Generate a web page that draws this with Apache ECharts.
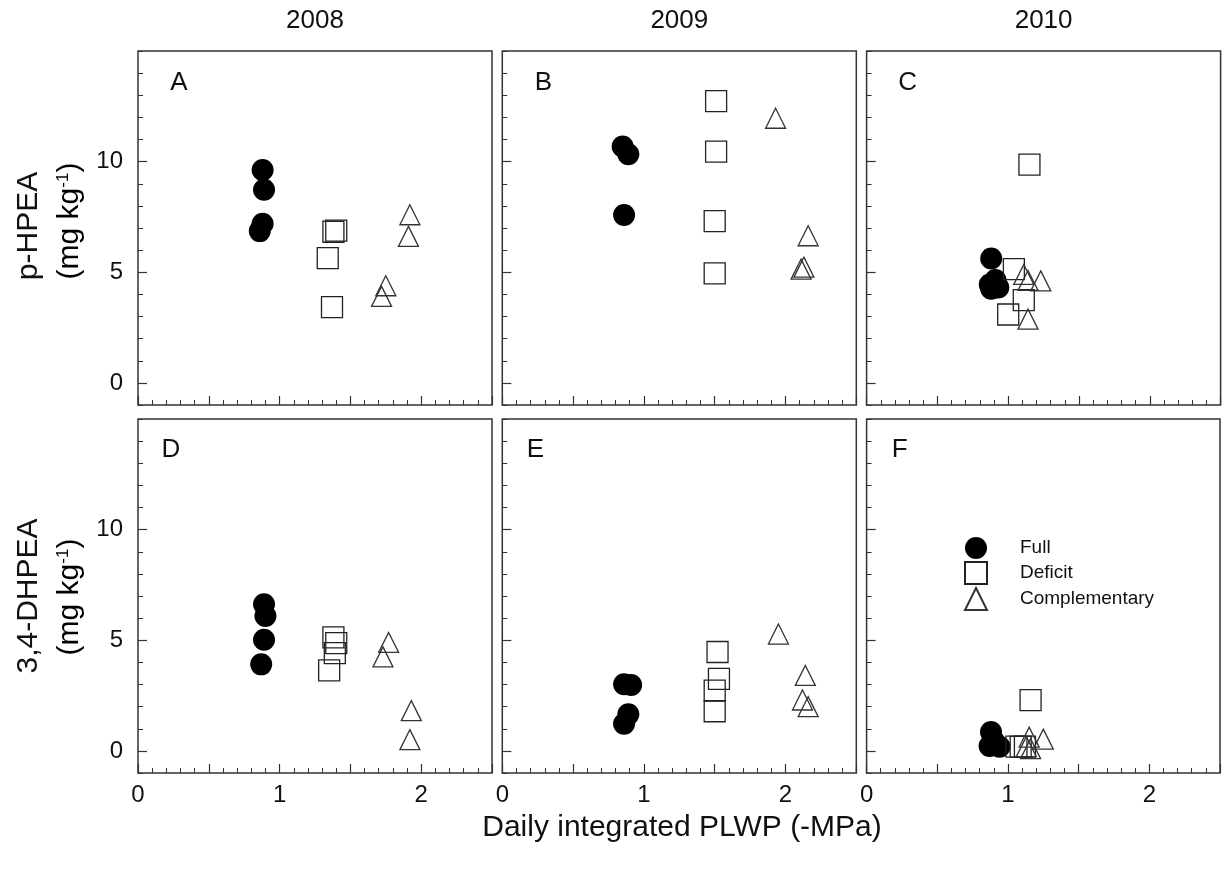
<!DOCTYPE html>
<html lang="en">
<head>
  <meta charset="UTF-8">
  <title>p-HPEA and 3,4-DHPEA vs PLWP</title>
  <script src="https://cdn.jsdelivr.net/npm/echarts@6/dist/echarts.min.js"></script>
  <style>
    body { margin: 0; padding: 0; background: #fff; }
    #chart { width: 1223px; height: 872px; }
  </style>
</head>
<body>
<div id="chart"></div>
<script>
  // panel labels / years
  const panelNames = ['A', 'B', 'C', 'D', 'E', 'F'];
  const years = ['2008', '2009', '2010'];
  const treatments = ['Full', 'Deficit', 'Complementary'];
  const xTickLabels = [0, 1, 2];
  const yTickLabels = [0, 5, 10];

  // [PLWP, concentration]
  // p-HPEA (top row)
  const fullA = [[0.88, 9.62], [0.89, 8.73], [0.88, 7.19], [0.86, 6.86]];
  const deficitA = [[1.38, 6.83], [1.40, 6.88], [1.34, 5.64], [1.37, 3.42]];
  const compA = [[1.92, 7.60], [1.91, 6.62], [1.75, 4.39], [1.72, 3.91]];

  const fullB = [[0.85, 10.68], [0.89, 10.33], [0.86, 7.59]];
  const deficitB = [[1.51, 12.73], [1.51, 10.45], [1.50, 7.31], [1.50, 4.95]];
  const compB = [[1.93, 11.96], [2.16, 6.65], [2.13, 5.23], [2.11, 5.14]];

  const fullC = [[0.88, 5.62], [0.87, 4.45], [0.93, 4.31], [0.91, 4.65], [0.88, 4.25]];
  const deficitC = [[1.15, 9.86], [1.04, 5.14], [1.11, 3.74], [1.00, 3.09]];
  const compC = [[1.11, 4.90], [1.14, 4.63], [1.23, 4.61], [1.14, 2.88]];

  // 3,4-DHPEA (bottom row)
  const fullD = [[0.89, 6.63], [0.90, 6.10], [0.89, 5.02], [0.87, 3.91]];
  const deficitD = [[1.38, 5.13], [1.40, 4.87], [1.39, 4.42], [1.35, 3.64]];
  const compD = [[1.77, 4.90], [1.73, 4.25], [1.93, 1.82], [1.92, 0.51]];

  const fullE = [[0.86, 3.01], [0.91, 2.98], [0.89, 1.65], [0.86, 1.23]];
  const deficitE = [[1.52, 4.47], [1.53, 3.25], [1.50, 2.72], [1.50, 1.79]];
  const compE = [[1.95, 5.28], [2.14, 3.41], [2.12, 2.30], [2.16, 2.00]];

  const fullF = [[0.88, 0.85], [0.87, 0.22], [0.94, 0.19], [0.90, 0.45]];
  const deficitF = [[1.16, 2.29], [1.06, 0.19], [1.09, 0.19], [1.12, 0.19]];
  const compF = [[1.15, 0.62], [1.25, 0.53], [1.13, 0.19], [1.16, 0.10]];

  const fullData = [fullA, fullB, fullC, fullD, fullE, fullF];
  const deficitData = [deficitA, deficitB, deficitC, deficitD, deficitE, deficitF];
  const compData = [compA, compB, compC, compD, compE, compF];

  const font = 'Arial, "Liberation Sans", sans-serif';
  const ink = '#111';

  const grids = [], xAxes = [], yAxes = [], series = [], graphics = [];

  for (let i = 0; i < 6; i++) {
    const col = i % 3;
    const row = Math.floor(i / 3);
    const left = 138 + col * 364.3;
    const top = 51 + row * 368;

    grids.push({
      left: left, top: top, width: 354, height: 354,
      show: true, borderColor: '#333', borderWidth: 1.5, backgroundColor: '#fff'
    });

    xAxes.push({
      gridIndex: i, type: 'value', min: 0, max: 2.5, interval: 0.5,
      position: 'bottom',
      axisLine: { show: false, onZero: false },
      axisTick: { inside: true, length: 9, lineStyle: { color: '#333', width: 1.2 } },
      minorTick: { show: true, splitNumber: 5, length: 5, lineStyle: { color: '#333', width: 1 } },
      splitLine: { show: false },
      minorSplitLine: { show: false },
      axisLabel: {
        show: row === 1, fontSize: 24, color: ink, fontFamily: font, margin: 10,
        formatter: v => xTickLabels.includes(v) ? String(v) : ''
      }
    });

    // major ticks + labels
    yAxes.push({
      gridIndex: i, type: 'value', min: -1, max: 15, position: 'left',
      axisLine: { show: false, onZero: false },
      axisTick: { inside: true, length: 9, customValues: [0, 5, 10], lineStyle: { color: '#333', width: 1.2 } },
      splitLine: { show: false },
      axisLabel: {
        show: col === 0, customValues: yTickLabels, fontSize: 24, color: ink,
        fontFamily: font, margin: 15
      }
    });
    // minor ticks every 1
    yAxes.push({
      gridIndex: i, type: 'value', min: -1, max: 15, interval: 1, position: 'left', offset: 0,
      axisLine: { show: false, onZero: false },
      axisTick: { inside: true, length: 5, lineStyle: { color: '#333', width: 1 } },
      splitLine: { show: false },
      axisLabel: { show: false }
    });

    series.push({
      name: 'Full', type: 'scatter', xAxisIndex: i, yAxisIndex: 2 * i,
      symbol: 'circle', symbolSize: 22,
      itemStyle: { color: '#000', opacity: 1 },
      data: fullData[i]
    });
    series.push({
      name: 'Deficit', type: 'scatter', xAxisIndex: i, yAxisIndex: 2 * i,
      symbol: 'rect', symbolSize: 21,
      itemStyle: { color: 'transparent', borderColor: '#222', borderWidth: 1.3, opacity: 1 },
      data: deficitData[i]
    });
    series.push({
      name: 'Complementary', type: 'scatter', xAxisIndex: i, yAxisIndex: 2 * i,
      symbol: 'triangle', symbolSize: 20,
      itemStyle: { color: 'transparent', borderColor: '#333', borderWidth: 1.3, opacity: 1 },
      data: compData[i]
    });

    // panel letter
    graphics.push({
      type: 'text',
      x: left + (row === 0 ? 41 : 33), y: top + (row === 0 ? 32 : 31),
      style: { text: panelNames[i], font: '26px ' + font, fill: ink, textAlign: 'center', textVerticalAlign: 'middle' }
    });
  }

  // year headers
  years.forEach((y, c) => {
    graphics.push({
      type: 'text', x: 138 + c * 364.3 + 177, y: 21,
      style: { text: y, font: '26px ' + font, fill: ink, textAlign: 'center', textVerticalAlign: 'middle' }
    });
  });

  // y axis titles
  const unitRich = {
    n: { fontSize: 30, fontFamily: font, color: ink },
    s: { fontSize: 17, fontFamily: font, color: ink, padding: [0, 0, 14, 0] }
  };
  [['p-HPEA', 226, 221], ['3,4-DHPEA', 596, 597]].forEach(([name, yc1, yc2]) => {
    graphics.push({
      type: 'text', x: 29, y: yc1, rotation: Math.PI / 2,
      style: { text: name, font: '30px ' + font, fill: ink, textAlign: 'center', textVerticalAlign: 'middle' }
    });
    graphics.push({
      type: 'text', x: 70, y: yc2, rotation: Math.PI / 2,
      style: { text: '{n|(mg kg}{s|-1}{n|)}', rich: unitRich, textAlign: 'center', textVerticalAlign: 'middle' }
    });
  });

  // x axis title
  graphics.push({
    type: 'text', x: 682, y: 828,
    style: { text: 'Daily integrated PLWP (-MPa)', font: '30px ' + font, fill: ink, textAlign: 'center', textVerticalAlign: 'middle' }
  });

  const chart = echarts.init(document.getElementById('chart'), null, { renderer: 'canvas' });
  chart.setOption({
    animation: false,
    backgroundColor: '#fff',
    grid: grids,
    xAxis: xAxes,
    yAxis: yAxes,
    legend: {
      data: [
        { name: 'Full', icon: 'circle' },
        { name: 'Deficit', icon: 'rect' },
        { name: 'Complementary', icon: 'triangle' }
      ],
      orient: 'vertical',
      left: 959, top: 532,
      itemWidth: 22, itemHeight: 22, itemGap: 2,
      textStyle: { fontSize: 19, color: ink, fontFamily: font, padding: [0, 0, 0, 28] }
    },
    graphic: graphics,
    series: series
  });
</script>
</body>
</html>
